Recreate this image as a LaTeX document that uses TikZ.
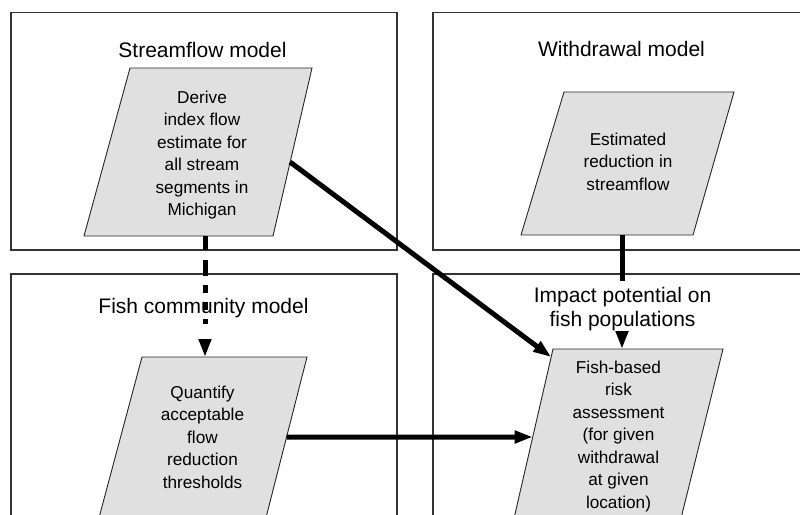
\documentclass[tikz,border=0pt]{standalone}
\usepackage{fontspec}
\setmainfont{Liberation Sans}
\usetikzlibrary{arrows.meta,calc}
\definecolor{boxline}{HTML}{333333}
\definecolor{paraline}{HTML}{262626}
\definecolor{parafill}{HTML}{E0E0E0}
\tikzset{
  model/.style={draw=boxline, line width=1.2pt},
  para/.style={draw=paraline, fill=parafill, line width=0.9pt},
  title/.style={font=\fontsize{21}{24}\selectfont, inner sep=0pt, align=center},
  body/.style={font=\fontsize{17.2}{22.5}\selectfont, inner sep=0pt, align=center, anchor=north},
  flow/.style={line width=5pt, -{Triangle[length=18pt,width=12pt]}},
  plainflow/.style={line width=5pt},
  dotflow/.style={flow, dash pattern=on 14pt off 10pt on 16pt off 9pt on 8pt off 9pt on 8pt off 9pt on 5pt off 20pt}
}
\begin{document}
\begin{tikzpicture}[x=1pt,y=-1pt]
\useasboundingbox (0,0) rectangle (800,514);
\clip (0,0) rectangle (800,514);
% model boxes
\draw[model] (11,12.7) rectangle (397,250);
\draw[model] (433,12.7) rectangle (811,250);
\draw[model] (11,274) rectangle (397,540);
\draw[model] (433,274) rectangle (811,540);
% parallelogram corners
\coordinate (p1tl) at (130,68);  \coordinate (p1tr) at (312,68);
\coordinate (p1br) at (273,236); \coordinate (p1bl) at (84,236);
\coordinate (p2tl) at (564,92);  \coordinate (p2tr) at (734,92);
\coordinate (p2br) at (693,235); \coordinate (p2bl) at (521,235);
\coordinate (p3tl) at (142,357); \coordinate (p3tr) at (307,357);
\coordinate (p3br) at (265.4,520); \coordinate (p3bl) at (98.4,520);
\coordinate (p4tl) at (553,349); \coordinate (p4tr) at (723,349);
\coordinate (p4br) at (679.6,524); \coordinate (p4bl) at (512.7,524);
\draw[para] (p1tl) -- (p1tr) -- (p1br) -- (p1bl) -- cycle;
\draw[para] (p2tl) -- (p2tr) -- (p2br) -- (p2bl) -- cycle;
\draw[para] (p3tl) -- (p3tr) -- (p3br) -- (p3bl) -- cycle;
\draw[para] (p4tl) -- (p4tr) -- (p4br) -- (p4bl) -- cycle;
% connector end points
\coordinate (s1) at ($(p1tr)!0.56!(p1br)$);
\coordinate (e1) at ($(p4tl)!0.046!(p4bl)$);
\coordinate (s2) at ($(p3tr)!0.4908!(p3br)$);
\coordinate (e2) at ($(p4tl)!0.5029!(p4bl)$);
\coordinate (p1b) at (205,236);
\coordinate (p3t) at (205,357);
\coordinate (p2b) at (622,235);
\coordinate (w1) at (622,281);
\coordinate (w2) at (622,331);
\coordinate (p4t) at (622,349);
% connectors
\draw[flow] (s1) -- (e1);
\draw[flow] (s2) -- (e2);
\draw[dotflow] (p1b) -- (p3t);
\draw[plainflow] (p2b) -- (w1);
\draw[flow] (w2) -- (p4t);
% titles
\node[title, anchor=base] (tsf) at (202.5,57) {Streamflow model};
\node[title, anchor=base] (twd) at (621.5,56) {Withdrawal model};
\node[title, anchor=base] (tfc) at (203.5,313) {Fish community model};
\node[title, anchor=north] (tip) at (622.5,287) {Impact potential on\\fish populations};
% parallelogram texts
\node[body] (b1) at (202,90.7) {Derive\\index flow\\estimate for\\all stream\\segments in\\Michigan};
\node[body] (b2) at (628,132.7) {Estimated\\reduction in\\streamflow};
\node[body] (b3) at (202.5,385.7) {Quantify\\acceptable\\flow\\reduction\\thresholds};
\node[body] (b4) at (618.5,360.7) {Fish-based\\risk\\assessment\\(for given\\withdrawal\\at given\\location)};
\end{tikzpicture}
\end{document}
